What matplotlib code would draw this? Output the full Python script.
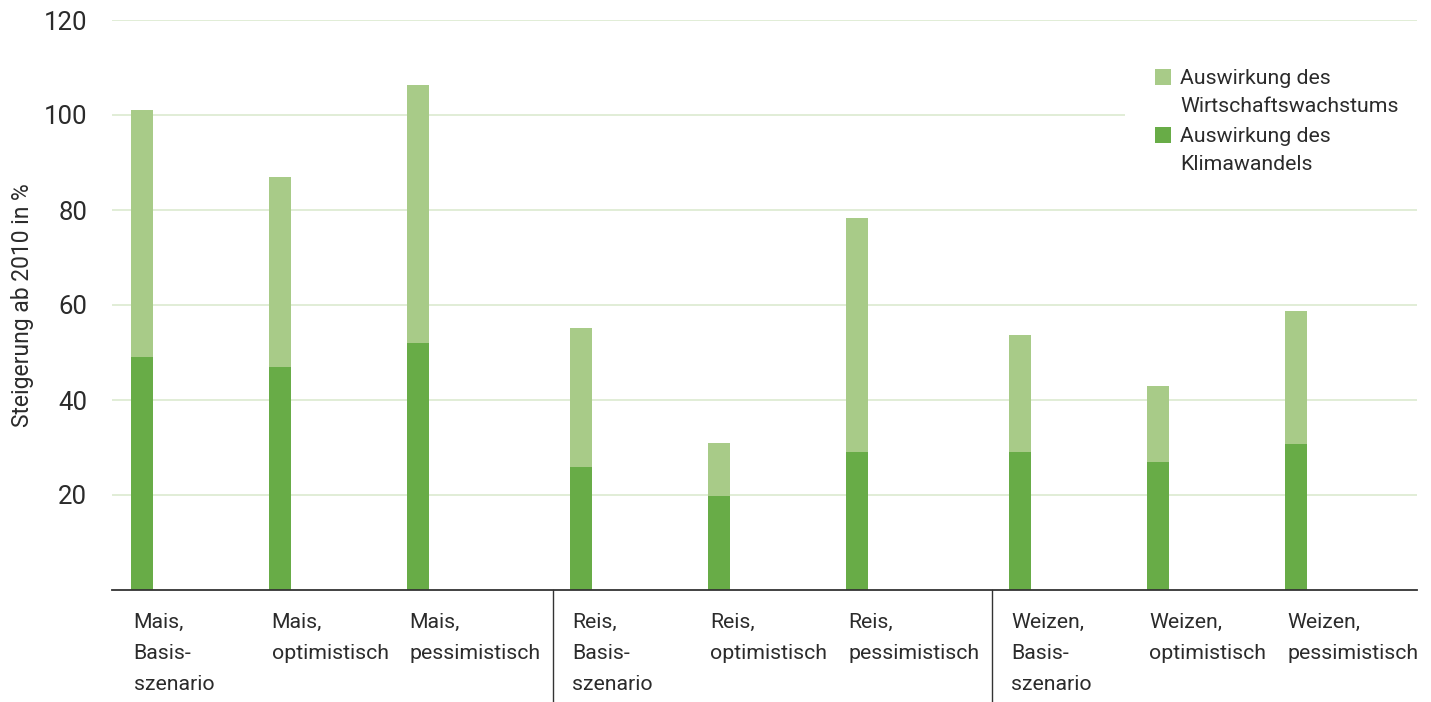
import matplotlib
matplotlib.use("Agg")
import matplotlib.pyplot as plt
from matplotlib.lines import Line2D
from matplotlib.patches import Rectangle

plt.rcParams['font.family'] = ['Roboto', 'DejaVu Sans']

categories = ["Mais,\nBasis-\nszenario", "Mais,\noptimistisch", "Mais,\npessimistisch",
              "Reis,\nBasis-\nszenario", "Reis,\noptimistisch", "Reis,\npessimistisch",
              "Weizen,\nBasis-\nszenario", "Weizen,\noptimistisch", "Weizen,\npessimistisch"]
groups = [0, 0, 0, 1, 1, 1, 2, 2, 2]
klimawandel = [49.1, 46.9, 52.0, 25.9, 19.8, 29.1, 29.0, 26.9, 30.8]
gesamt = [101.0, 86.9, 106.3, 55.2, 30.9, 78.3, 53.7, 42.9, 58.8]
wirtschaft = [g - k for g, k in zip(gesamt, klimawandel)]
yticks = [20, 40, 60, 80, 100, 120]
legend_labels = ["Auswirkung des\nWirtschaftswachstums", "Auswirkung des\nKlimawandels"]

c_light = "#A8CB88"
c_dark = "#68AC47"
c_grid = "#DCEACF"
c_text = "#2b2b2b"

W, H = 1431, 702
fig = plt.figure(figsize=(W / 100, H / 100), dpi=100)
ax = fig.add_axes([112 / W, 112 / H, 1305 / W, 570 / H])

group_step = 3.18
xs = [g * group_step + (i % 3) for i, g in enumerate(groups)]
w = 0.16

ax.bar(xs, klimawandel, width=w, color=c_dark, zorder=2)
ax.bar(xs, wirtschaft, bottom=klimawandel, width=w, color=c_light, zorder=2)

ax.set_xlim(-0.217, 9.24)
ax.set_ylim(0, 120)
ax.set_yticks(yticks)
ax.set_yticklabels([str(t) for t in yticks], fontsize=18.5, color=c_text)
ax.tick_params(axis='y', length=0, pad=18)
ax.tick_params(axis='x', length=0)
ax.set_xticks([])
ax.yaxis.grid(True, color=c_grid, linewidth=1.2, zorder=0)
ax.set_axisbelow(True)
for s in ['top', 'right', 'left']:
    ax.spines[s].set_visible(False)
ax.spines['bottom'].set_color('#333333')
ax.spines['bottom'].set_linewidth(1.3)

ax.set_ylabel("Steigerung ab 2010 in %", fontsize=16.5, color=c_text, labelpad=7)

trans = ax.get_xaxis_transform()
for x, lab in zip(xs, categories):
    ax.text(x - w / 2 + 0.02, -0.040, lab, transform=trans, ha='left', va='top',
            fontsize=15.3, color=c_text, linespacing=1.8)

for g in [1, 2]:
    xsep = g * group_step - 0.2
    ax.add_line(Line2D([xsep, xsep], [0, -0.2], transform=trans, color='#333333',
                       linewidth=1.0, clip_on=False))

# legend area (white background covering gridlines)
def fx(px):
    return px / W

def fy(py):
    return 1 - py / H

ax.add_patch(Rectangle((fx(1125), fy(180)), fx(1417) - fx(1125), fy(55) - fy(180),
                       transform=fig.transFigure, facecolor='white', edgecolor='none', zorder=1))
leg_colors = [c_light, c_dark]
leg_y = [77, 135]
for col, lab, yy in zip(leg_colors, legend_labels, leg_y):
    fig.patches.append(Rectangle((fx(1155), fy(yy + 8)), fx(16), 16 / H,
                                 transform=fig.transFigure, facecolor=col, edgecolor='none'))
    fig.text(fx(1180), fy(yy - 8), lab, ha='left', va='top', fontsize=15.3, color=c_text,
             linespacing=1.57, transform=fig.transFigure)

fig.savefig("out.png", dpi=100, facecolor='white')
